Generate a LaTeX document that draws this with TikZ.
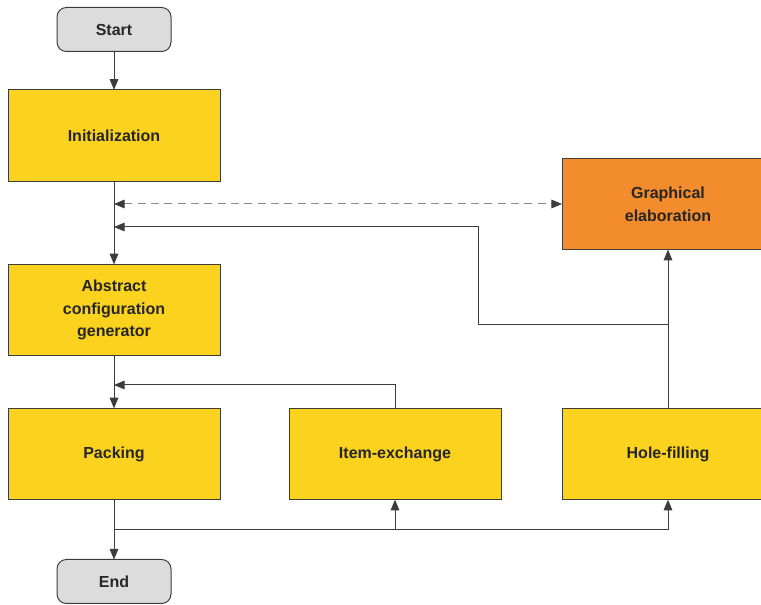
\documentclass[tikz,border=0pt]{standalone}
\usepackage{fontspec}
\setsansfont{Liberation Sans}
\usetikzlibrary{arrows.meta}

\definecolor{boxyellow}{HTML}{FBD21E}
\definecolor{boxorange}{HTML}{F28C2C}
\definecolor{boxgray}{HTML}{DCDCDC}
\definecolor{edgegray}{HTML}{3C3C3C}
\definecolor{dashgray}{HTML}{8A8A8A}

\tikzset{every picture/.style={line width=0.75pt}}
\tikzset{
  box/.style={draw=edgegray, fill=boxyellow, minimum width=159pt, minimum height=68.5pt,
    inner sep=0pt, outer sep=0pt, align=center, font=\sffamily\bfseries\fontsize{12}{17}\selectfont, text=black!85},
  hilite/.style={box, fill=boxorange},
  terminal/.style={box, fill=boxgray, rounded corners=7pt, minimum width=85.5pt, minimum height=33pt},
  tip/.style={Triangle[length=8pt,width=6.5pt,color=edgegray]},
  flow/.style={draw=edgegray, -{Triangle[length=8pt,width=6.5pt]}},
  dashflow/.style={draw=dashgray, dash pattern=on 6pt off 4pt,
    {Triangle[length=8pt,width=6.5pt,color=edgegray]}-{Triangle[length=8pt,width=6.5pt,color=edgegray]}}
}

\begin{document}
\begin{tikzpicture}[x=0.75pt,y=0.75pt,yscale=-1,xscale=1]
%set diagram area to 761 x 605
\clip (0,0) rectangle (761,605);

% Terminals
\node[terminal] (start) at (114,29.5) {Start};
\node[terminal] (end) at (114,581.5) {End};

% Left column
\node[box] (init) at (114,135.5) {Initialization};
\node[box] (abs) at (114,310) {Abstract\\configuration\\generator};
\node[box] (pack) at (114,454) {Packing};

% Other boxes
\node[box] (item) at (395,454) {Item-exchange};
\node[box] (hole) at (668,454) {Hole-filling};
\node[hilite] (graph) at (668,204) {Graphical\\elaboration};

% Junctions
\coordinate (dj) at (114,204);
\coordinate (fj) at (114,227);
\coordinate (hj) at (668,325);
\coordinate (hk) at (478,325);
\coordinate (pj) at (114,385);
\coordinate (bj) at (114,530);

% Main flow
\draw[flow] (start) -- (init);
\draw[flow] (init) -- (abs);
\draw[flow] (abs) -- (pack);
\draw[flow] (pack) -- (end);

% Dashed link
\draw[dashflow] (dj) -- (graph.west);

% Feedback loops
\draw[flow] (hole) -- (graph);
\draw[flow] (hj) -- (hk) |- (fj);
\draw[flow] (item.north) |- (pj);

% Bottom bus
\draw[flow] (bj) -| (item.south);
\draw[flow] (bj) -| (hole.south);

\end{tikzpicture}
\end{document}
